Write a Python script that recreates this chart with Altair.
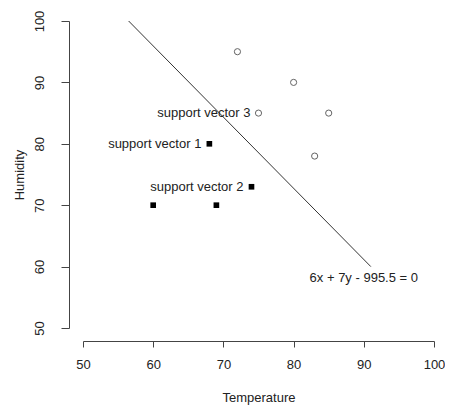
import altair as alt
import pandas as pd

# Data
neg_x = [60, 69, 68, 74]
neg_y = [70, 70, 80, 73]
pos_x = [72, 80, 75, 85, 83]
pos_y = [95, 90, 85, 85, 78]
sv_labels = ["support vector 1", "support vector 2", "support vector 3"]
sv_x = [68, 74, 75]
sv_y = [80, 73, 85]
line_x = [56.5, 91]
line_y = [100, 60]
eq_text = ["6x + 7y - 995.5 = 0"]
eq_x = [90]
eq_y = [58.1]
ticks = [50, 60, 70, 80, 90, 100]

neg = pd.DataFrame({"x": neg_x, "y": neg_y})
pos = pd.DataFrame({"x": pos_x, "y": pos_y})
sv = pd.DataFrame({"x": sv_x, "y": sv_y, "label": sv_labels})
ln = pd.DataFrame({"x": line_x, "y": line_y})
eq = pd.DataFrame({"x": eq_x, "y": eq_y, "label": eq_text})

FONT = "Liberation Sans"
xs = alt.Scale(domain=[50, 100], nice=False, zero=False)
ys = alt.Scale(domain=[50, 100], nice=False, zero=False)

xax = alt.Axis(values=ticks, grid=False, offset=13, tickSize=6, labelPadding=11,
               labelFlush=False, labelOverlap=False,
               title="Temperature", titlePadding=20, format="d")
yax = alt.Axis(values=ticks, grid=False, offset=14, tickSize=8, labelAngle=-90,
               labelAlign="center", labelBaseline="bottom", labelPadding=15,
               labelFlush=False, labelOverlap=False,
               title="Humidity", titlePadding=7, format="d")

X = alt.X("x:Q", scale=xs, axis=xax)
Y = alt.Y("y:Q", scale=ys, axis=yax)

line = alt.Chart(ln).mark_line(color="#333333", strokeWidth=1).encode(x=X, y=Y)
squares = alt.Chart(neg).mark_point(shape="square", filled=True, color="black",
                                    size=32, opacity=1).encode(x=X, y=Y)
circles = alt.Chart(pos).mark_point(shape="circle", filled=False, color="#222222",
                                    size=38, strokeWidth=1).encode(x=X, y=Y)
svtext = alt.Chart(sv).mark_text(align="right", baseline="middle", dx=-8,
                                 font=FONT, fontSize=13, color="#222222").encode(
    x=X, y=Y, text="label:N")
eqtext = alt.Chart(eq).mark_text(align="center", baseline="middle",
                                 font=FONT, fontSize=13, color="#222222").encode(
    x=X, y=Y, text="label:N")

chart = alt.layer(line, squares, circles, svtext, eqtext).properties(
    width=351, height=307,
    autosize=alt.AutoSizeParams(type="none"),
    padding={"left": 75, "top": 13, "right": 11, "bottom": 85},
    background="white",
).configure_view(stroke=None).configure_axis(
    domainColor="#444444", tickColor="#444444", labelColor="#222222",
    titleColor="#222222", labelFont=FONT, titleFont=FONT, labelFontSize=13,
    titleFontSize=13, titleFontWeight="normal", domainWidth=1, tickWidth=1,
)

chart.save("out.html", embed_options={"renderer": "svg", "actions": False})
